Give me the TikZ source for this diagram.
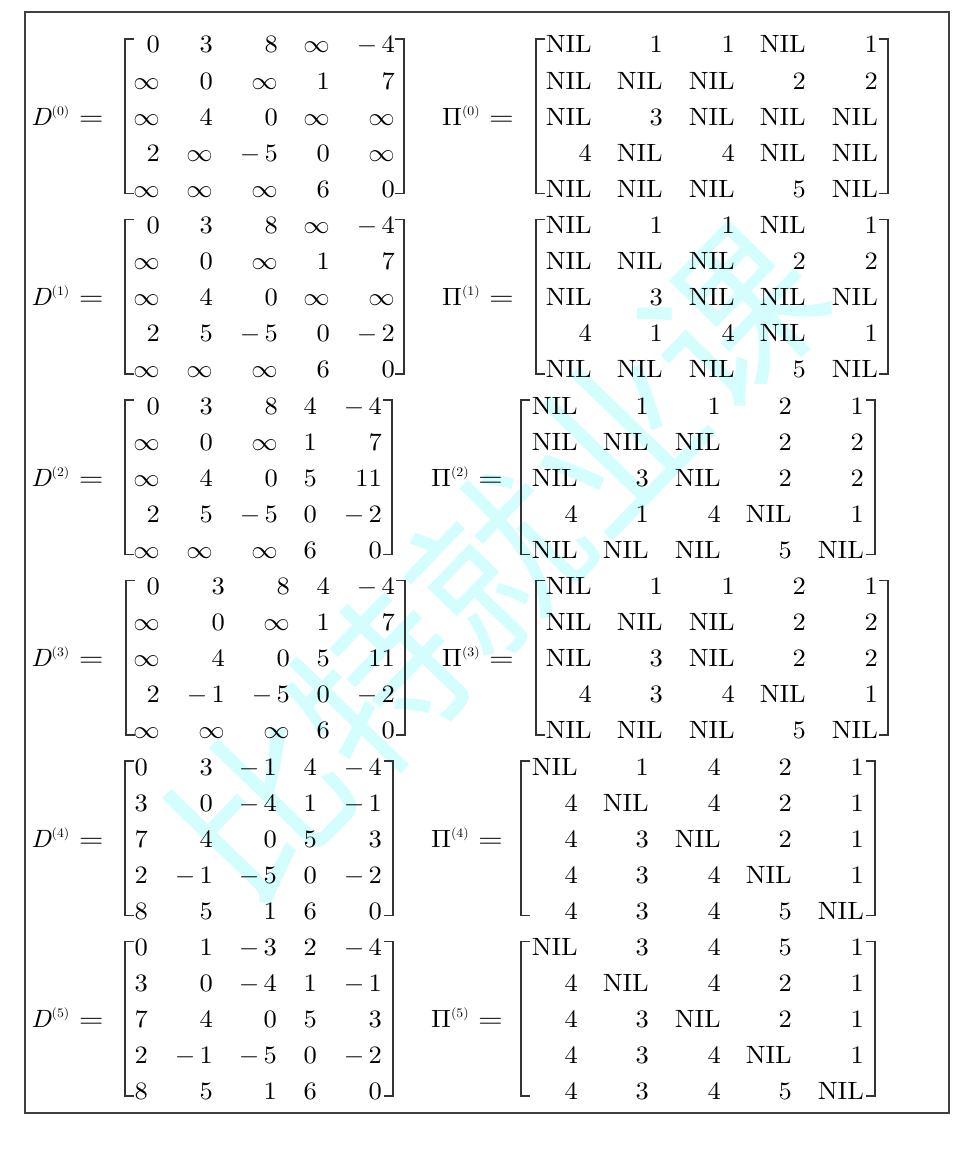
\documentclass[tikz,border=0pt]{standalone}
\usepackage{fontspec}
\usepackage{graphicx}
\setmainfont{lmroman10-regular.otf}[ItalicFont=lmroman10-italic.otf,BoldFont=lmroman10-bold.otf]
\DeclareFontShape{OT1}{cmr}{m}{n}{<-> cmr10}{}
\newfontfamily\cjk{Noto Sans CJK SC}
\newcommand\mynil{NIL}
\newcommand\myinf{$\infty$}
\newcommand\myneg[1]{$-$\kern4pt#1}
\newcommand\cell[1]{\scalebox{1.06}[1]{#1}}
\newcommand\myeq{\scalebox{1.2}[1]{=}}
\newcommand\mysup[1]{\raisebox{10pt}{\fontsize{13}{13}\selectfont(#1)}}
\definecolor{wmcol}{RGB}{212,254,254}
\tikzset{
  ent/.style={anchor=base east, inner sep=0pt, text=black, font=\fontsize{25}{30}\selectfont},
  lab/.style={anchor=base west, inner sep=0pt, text=black, font=\fontsize{25}{30}\selectfont},
  brk/.style={draw=black!80, line width=1.7pt},
  frame/.style={draw=black!75, line width=1.4pt},
  wm/.style={inner sep=0pt, text=wmcol, rotate=46, font=\cjk\fontsize{170}{170}\selectfont}
}
% #1 name, #2 first row index, #3 column right edges, #4 left bracket x, #5 right bracket x, #6 rows
\newcommand\placemat[6]{%
  \foreach \row [count=\r from 0] in {#6} {
    \foreach \e [count=\c from 0] in \row {
      \pgfmathsetmacro\xx{{#3}[\c]}
      \pgfmathsetmacro\yy{45+36.1*(#2+\r)+8}
      \node[ent] (#1-\r-\c) at (\xx,\yy) {\cell{\e}};
    }
  }
  \pgfmathsetmacro\ytop{45+36.1*#2-6}
  \pgfmathsetmacro\ybot{45+36.1*(#2+4)+4}
  \draw[brk] (#4+9,\ytop) -- (#4,\ytop) -- (#4,\ybot) -- (#4+9,\ybot);
  \draw[brk] (#5-9,\ytop) -- (#5,\ytop) -- (#5,\ybot) -- (#5-9,\ybot);
}
\newcommand\placelab[4]{% #1 name, #2 x, #3 block index, #4 content
  \pgfmathsetmacro\yy{45+36.1*(5*#3+2)+8}
  \node[lab] (#1) at (#2,\yy) {\cell{#4}};
}
\begin{document}
\begin{tikzpicture}[x=1pt,y=-1pt]
\useasboundingbox (0,0) rectangle (972,1158);
\node[wm] (wm) at (497,562) {比特就业课};
\draw[frame] (25,12) rectangle (949,1113);

% D matrices
\placelab{LD0}{31}{0}{\textit{D}\mysup{0}\kern9pt\myeq}
\placemat{D0}{0}{160,213,278,330,395}{125}{404}{
  {0,3,8,\myinf,\myneg{4}},
  {\myinf,0,\myinf,1,7},
  {\myinf,4,0,\myinf,\myinf},
  {2,\myinf,\myneg{5},0,\myinf},
  {\myinf,\myinf,\myinf,6,0}}
\placelab{LD1}{31}{1}{\textit{D}\mysup{1}\kern9pt\myeq}
\placemat{D1}{5}{160,213,278,330,395}{125}{404}{
  {0,3,8,\myinf,\myneg{4}},
  {\myinf,0,\myinf,1,7},
  {\myinf,4,0,\myinf,\myinf},
  {2,5,\myneg{5},0,\myneg{2}},
  {\myinf,\myinf,\myinf,6,0}}
\placelab{LD2}{31}{2}{\textit{D}\mysup{2}\kern9pt\myeq}
\placemat{D2}{10}{160,213,278,317,382}{125}{392}{
  {0,3,8,4,\myneg{4}},
  {\myinf,0,\myinf,1,7},
  {\myinf,4,0,5,11},
  {2,5,\myneg{5},0,\myneg{2}},
  {\myinf,\myinf,\myinf,6,0}}
\placelab{LD3}{31}{3}{\textit{D}\mysup{3}\kern9pt\myeq}
\placemat{D3}{15}{160,225,290,330,395}{126}{405}{
  {0,3,8,4,\myneg{4}},
  {\myinf,0,\myinf,1,7},
  {\myinf,4,0,5,11},
  {2,\myneg{1},\myneg{5},0,\myneg{2}},
  {\myinf,\myinf,\myinf,6,0}}
\placelab{LD4}{31}{4}{\textit{D}\mysup{4}\kern9pt\myeq}
\placemat{D4}{20}{148,213,277,317,382}{125}{393}{
  {0,3,\myneg{1},4,\myneg{4}},
  {3,0,\myneg{4},1,\myneg{1}},
  {7,4,0,5,3},
  {2,\myneg{1},\myneg{5},0,\myneg{2}},
  {8,5,1,6,0}}
\placelab{LD5}{31}{5}{\textit{D}\mysup{5}\kern9pt\myeq}
\placemat{D5}{25}{148,213,277,317,382}{125}{393}{
  {0,1,\myneg{3},2,\myneg{4}},
  {3,0,\myneg{4},1,\myneg{1}},
  {7,4,0,5,3},
  {2,\myneg{1},\myneg{5},0,\myneg{2}},
  {8,5,1,6,0}}

% Pi matrices
\placelab{LP0}{442}{0}{$\Pi$\mysup{0}\kern9pt\myeq}
\placemat{P0}{0}{592,663,735,806,878}{536}{888}{
  {\mynil,1,1,\mynil,1},
  {\mynil,\mynil,\mynil,2,2},
  {\mynil,3,\mynil,\mynil,\mynil},
  {4,\mynil,4,\mynil,\mynil},
  {\mynil,\mynil,\mynil,5,\mynil}}
\placelab{LP1}{442}{1}{$\Pi$\mysup{1}\kern9pt\myeq}
\placemat{P1}{5}{592,663,735,806,878}{536}{888}{
  {\mynil,1,1,\mynil,1},
  {\mynil,\mynil,\mynil,2,2},
  {\mynil,3,\mynil,\mynil,\mynil},
  {4,1,4,\mynil,1},
  {\mynil,\mynil,\mynil,5,\mynil}}
\placelab{LP2}{431}{2}{$\Pi$\mysup{2}\kern9pt\myeq}
\placemat{P2}{10}{578,649,721,792,864}{521}{875}{
  {\mynil,1,1,2,1},
  {\mynil,\mynil,\mynil,2,2},
  {\mynil,3,\mynil,2,2},
  {4,1,4,\mynil,1},
  {\mynil,\mynil,\mynil,5,\mynil}}
\placelab{LP3}{442}{3}{$\Pi$\mysup{3}\kern9pt\myeq}
\placemat{P3}{15}{592,663,735,806,878}{536}{888}{
  {\mynil,1,1,2,1},
  {\mynil,\mynil,\mynil,2,2},
  {\mynil,3,\mynil,2,2},
  {4,3,4,\mynil,1},
  {\mynil,\mynil,\mynil,5,\mynil}}
\placelab{LP4}{431}{4}{$\Pi$\mysup{4}\kern9pt\myeq}
\placemat{P4}{20}{578,649,721,792,864}{521}{875}{
  {\mynil,1,4,2,1},
  {4,\mynil,4,2,1},
  {4,3,\mynil,2,1},
  {4,3,4,\mynil,1},
  {4,3,4,5,\mynil}}
\placelab{LP5}{431}{5}{$\Pi$\mysup{5}\kern9pt\myeq}
\placemat{P5}{25}{578,649,721,792,864}{521}{875}{
  {\mynil,3,4,5,1},
  {4,\mynil,4,2,1},
  {4,3,\mynil,2,1},
  {4,3,4,\mynil,1},
  {4,3,4,5,\mynil}}
\end{tikzpicture}
\end{document}
